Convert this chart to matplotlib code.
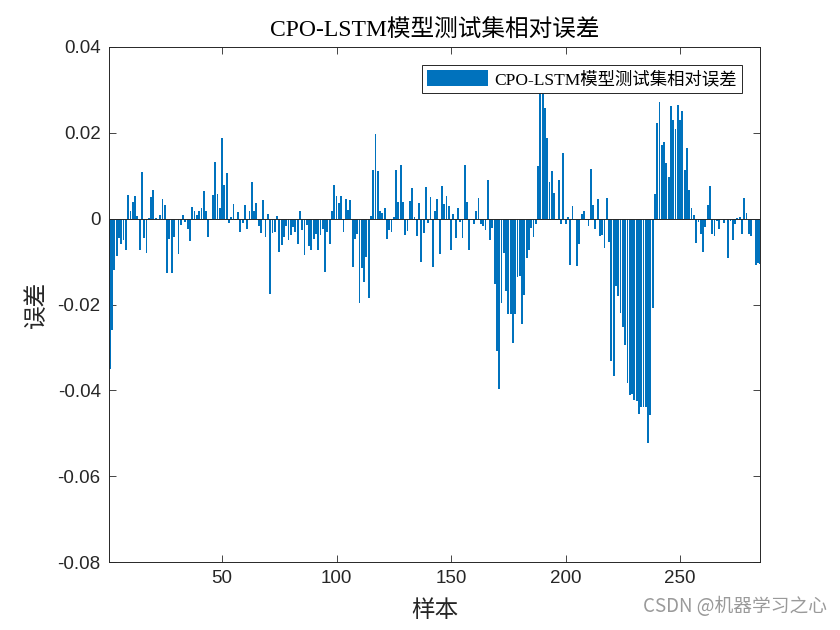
"""Bar chart of CPO-LSTM test-set relative error per sample."""
import matplotlib
matplotlib.use("Agg")
import matplotlib.pyplot as plt
import numpy as np

TITLE = "CPO-LSTM模型测试集相对误差"
X_LABEL = "样本"
Y_LABEL = "误差"
X_TICKS = [50, 100, 150, 200, 250]
Y_TICKS = [-0.08, -0.06, -0.04, -0.02, 0, 0.02, 0.04]
Y_TICK_LABELS = ["-0.08", "-0.06", "-0.04", "-0.02", "0", "0.02", "0.04"]

# relative error of each test sample
rel_error = [
    -0.035, -0.026, -0.012, -0.0087, -0.0044, -0.0058, -0.005, -0.0074, 0.0054, 0.0019,
    0.0038, 0.0053, 0.0007, -0.0073, 0.0109, -0.0046, -0.0079, 0.0002, 0.0051, 0.0066,
    0.0002, 0.0, 0.0008, 0.0045, 0.0032, -0.0127, -0.0048, -0.0127, -0.0042, 0.0,
    -0.0083, -0.0014, 0.0008, -0.0008, -0.0024, -0.0051, 0.0028, 0.0017, 0.0009, 0.0019,
    0.0025, 0.0064, 0.0018, -0.0043, -0.0004, 0.0055, 0.0131, 0.0057,
    0.0024, 0.0189, 0.0078, 0.0106, -0.0011, 0.0004, 0.0035, -0.0004, 0.0016, -0.0032,
    -0.001, 0.0033, -0.0023, 0.0019, 0.0086, 0.0018, 0.0037, -0.0016, -0.0033, 0.0043,
    -0.0043, 0.0012, -0.0176, -0.0033, -0.003, 0.0006, -0.0077, -0.0062, -0.0043, -0.0018,
    -0.0049, -0.0039, -0.0019, -0.003, -0.0058, 0.0019, -0.0026, -0.0085, -0.0015, -0.0064,
    -0.0072, -0.0047, -0.0035, -0.0072, -0.0039, -0.0023, -0.0125, -0.0032, -0.0058, 0.0018,
    0.0078, 0.0053, 0.0037, 0.0053, -0.0032, 0.0047, 0.0021, 0.0044, -0.0113, -0.0047,
    -0.0035, -0.0196, -0.0116, -0.0147, -0.0089, -0.0184, 0.0006, 0.0114, 0.0198, 0.011,
    0.0019, 0.0013, 0.0026, -0.0047, -0.0027, -0.003, 0.0004, 0.0114, 0.004, 0.0124,
    0.0039, -0.0037, -0.0029, 0.0041, 0.0072, 0.0005, -0.004, 0.0037, -0.0102, -0.0033,
    0.0073, -0.0009, 0.005, -0.0113, 0.0018, 0.0047, -0.0082, 0.0075, 0.0035,
    0.0053, 0.003, -0.0074, 0.0012, -0.0045, 0.0026, -0.0008, -0.0044, 0.0124, 0.0038,
    -0.0072, 0.0, -0.0012, 0.0019, 0.0048, -0.0013, -0.0016, -0.0026, 0.0091, -0.005,
    -0.0021, -0.0153, -0.0308, -0.0396, -0.0196, -0.008, -0.0169, -0.0223, -0.0223, -0.0289,
    -0.0223, -0.0137, -0.0134, -0.0245, -0.0179, -0.0091, -0.0074, -0.0021, -0.0043, -0.0013,
    0.0122, 0.031, 0.030, 0.0259, 0.0189, 0.0085, 0.011, 0.006, -0.0002, 0.0089,
    -0.0012, 0.0153, -0.0013, 0.0004, -0.0109, 0.003, 0.0, -0.0111, -0.006, 0.0012,
    0.0019, -0.0004, -0.0016, 0.0115, 0.0031, -0.0023, 0.0045, -0.0041, -0.0039, -0.0068,
    0.0049, -0.0054, -0.0332, -0.0367, -0.0158, -0.0181, -0.022, -0.0252, -0.0294, -0.0382,
    -0.0412, -0.0408, -0.0422, -0.0425, -0.0456, -0.0439, -0.0439, -0.0439, -0.0523, -0.0457,
    -0.0208,
    0.0058, 0.0223, 0.0272, 0.0172, 0.0179, 0.013, 0.0097, 0.0263, 0.0231, 0.021,
    0.0264, 0.0231, 0.025, 0.0113, 0.0165, 0.0066, 0.0025, 0.0009, -0.0056, -0.0008,
    -0.0035, -0.0078, -0.0019, 0.0031, 0.0076, -0.0035, -0.004, -0.0006, -0.0024, 0.0,
    -0.001, 0.0, -0.0092, -0.0006, -0.0049, -0.0012, 0.0002, 0.0004, -0.0036, 0.0049,
    0.0013, -0.0035, -0.0041, -0.0004, -0.0107, -0.0103, -0.0105,
]

BLUE = "#0072BD"
DARK = "#262626"
SERIF_CJK = ["Liberation Serif", "Noto Sans CJK SC"]


def main():
    plt.rcParams["font.family"] = ["Liberation Sans", "Noto Sans CJK SC"]
    samples = np.arange(1, len(rel_error) + 1)

    fig = plt.figure(figsize=(8.4, 6.3), dpi=100)
    ax = fig.add_axes([0.1298, 0.1079, 0.775, 0.8175])

    ax.bar(samples, rel_error, width=0.8, color=BLUE, edgecolor="none",
           label=TITLE, zorder=2)
    ax.axhline(0, color=DARK, lw=0.7, zorder=3)

    ax.set_xlim(0.65, 284.9)
    ax.set_ylim(-0.08, 0.04)
    ax.set_xticks(X_TICKS)
    ax.set_yticks(Y_TICKS)
    ax.set_yticklabels(Y_TICK_LABELS)
    ax.tick_params(direction="in", top=True, right=True, length=5, width=0.6,
                   labelsize=13.5, colors=DARK, pad=6)
    for s in ax.spines.values():
        s.set_color(DARK)
        s.set_linewidth(0.7)

    ax.set_title(TITLE, family=SERIF_CJK, fontsize=17, color="black", pad=7)
    ax.set_xlabel(X_LABEL, family=SERIF_CJK, fontsize=17, color=DARK, labelpad=9)
    ax.set_ylabel(Y_LABEL, family=SERIF_CJK, fontsize=17, color=DARK, labelpad=7)

    leg = ax.legend(loc="upper right", prop={"family": SERIF_CJK, "size": 12.5},
                    frameon=True, fancybox=False, framealpha=1, edgecolor=DARK,
                    handlelength=3.5, handleheight=1.0, borderpad=0.3,
                    handletextpad=0.35, borderaxespad=1.05)
    leg.get_frame().set_linewidth(0.7)
    leg.set_zorder(5)

    fig.text(0.984, 0.02, "CSDN @机器学习之心", ha="right", va="bottom",
             fontsize=13.5, color="#9a9a9a", family=["Noto Sans CJK SC", "DejaVu Sans"])

    fig.savefig("out.png", dpi=100)
    plt.close(fig)


if __name__ == "__main__":
    main()
